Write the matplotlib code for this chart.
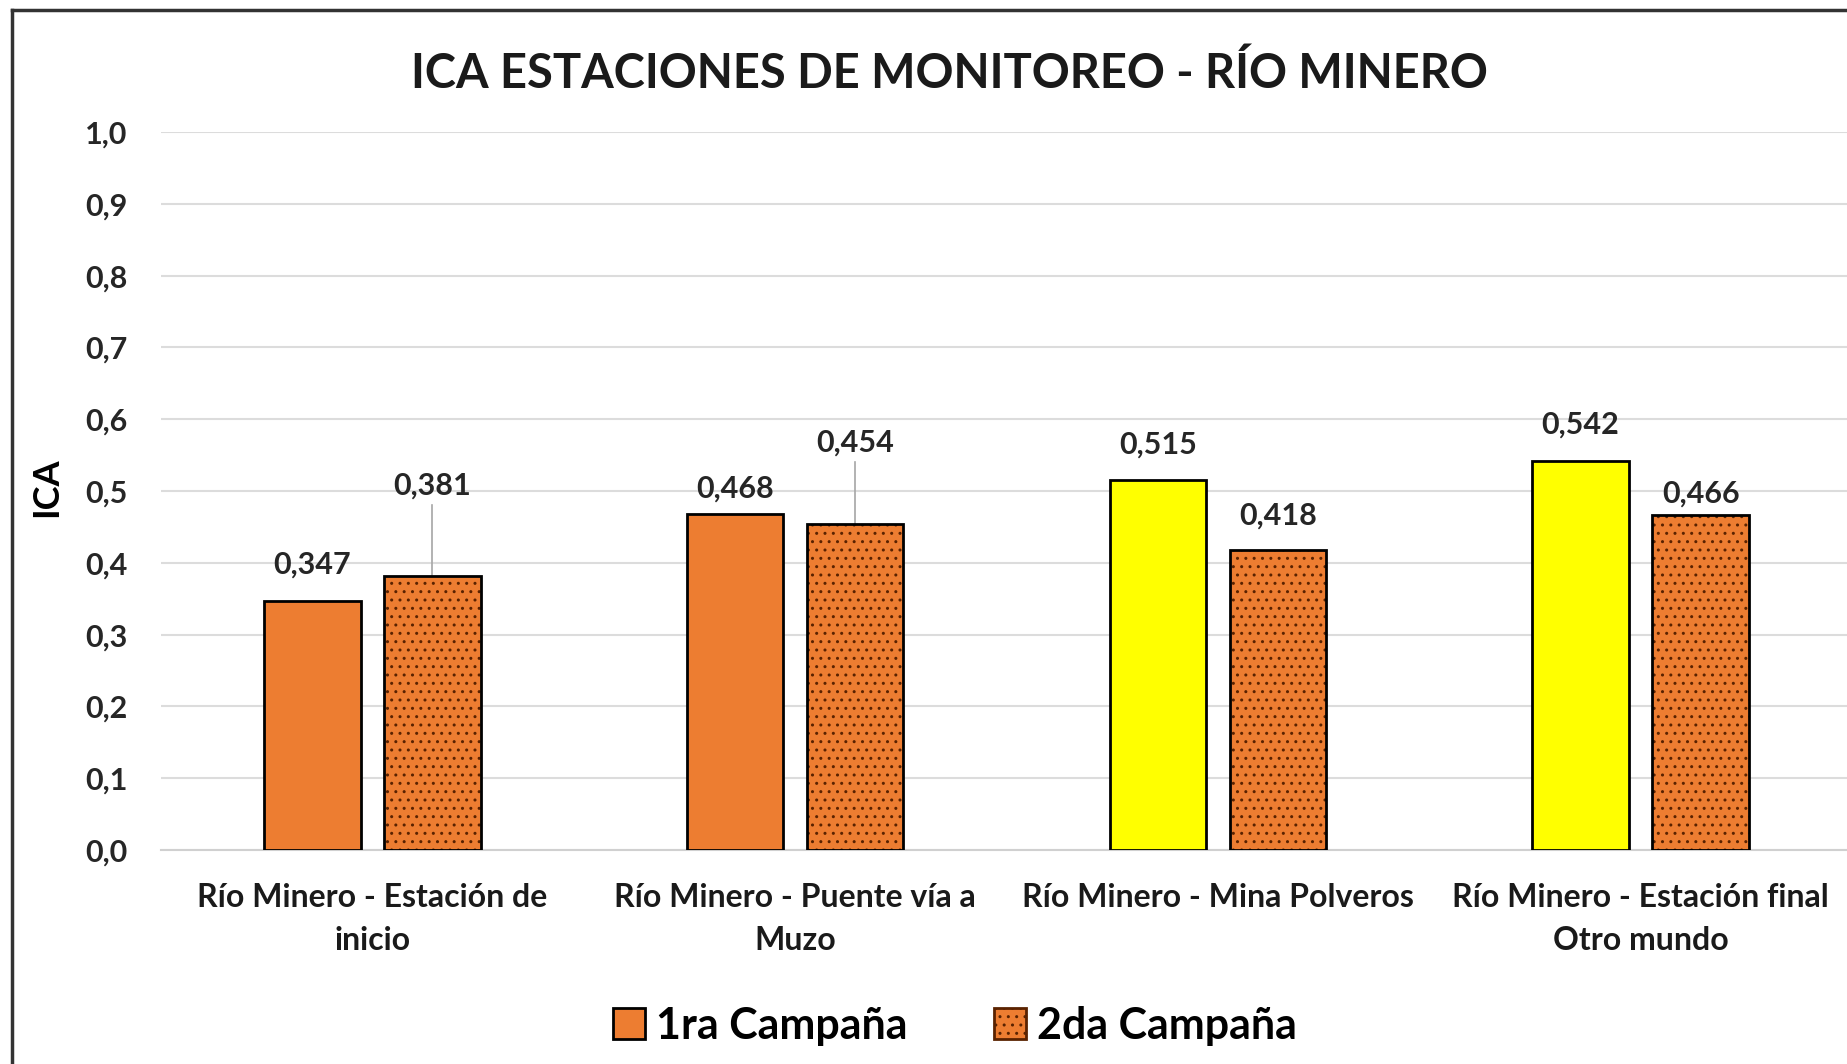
import matplotlib
matplotlib.use("Agg")
import matplotlib.pyplot as plt
from matplotlib.patches import Patch
from matplotlib.lines import Line2D
import numpy as np

# ---- data ----
categories = ["Río Minero - Estación de\ninicio",
              "Río Minero - Puente vía a\nMuzo",
              "Río Minero - Mina Polveros",
              "Río Minero - Estación final\nOtro mundo"]
campana1 = [0.347, 0.468, 0.515, 0.542]
campana2 = [0.381, 0.454, 0.418, 0.466]
series_names = ["1ra Campaña", "2da Campaña"]
yticks = [0.0, 0.1, 0.2, 0.3, 0.4, 0.5, 0.6, 0.7, 0.8, 0.9, 1.0]
title = "ICA ESTACIONES DE MONITOREO - RÍO MINERO"
ylabel = "ICA"

# ---- style ----
FONT = "Lato"
plt.rcParams["font.family"] = [FONT, "DejaVu Sans"]
orange = "#ED7D31"
yellow = "#FFFF00"
c1_colors = [orange, orange, yellow, yellow]
dot_color = "#5a2200"

fig = plt.figure(figsize=(18.47, 10.64), dpi=100)
ax = fig.add_axes([0.0872, 0.2011, 0.9155, 0.6748])

x = np.arange(len(categories))
w = 0.228
off = 0.142

# series 1
ax.bar(x - off, campana1, w, color=c1_colors, edgecolor="black", linewidth=2.0, zorder=3)
# series 2: hatched fill then outline
ax.bar(x + off, campana2, w, color=orange, edgecolor=dot_color, hatch="..", linewidth=0, zorder=3)
ax.bar(x + off, campana2, w, fill=False, edgecolor="black", linewidth=2.0, zorder=4)

# data labels (label centre heights, in axis units)
lab1 = [0.397, 0.503, 0.564, 0.593]
lab2 = [0.507, 0.567, 0.466, 0.497]
leader = [True, True, False, False]
lfont = dict(fontsize=22, fontweight="bold", color="#262626", ha="center", va="center",
             family=[FONT, "DejaVu Sans"])
for i in range(len(categories)):
    ax.text(x[i] - off, lab1[i], f"{campana1[i]:.3f}".replace(".", ","), **lfont, zorder=5)
    ax.text(x[i] + off, lab2[i], f"{campana2[i]:.3f}".replace(".", ","), **lfont, zorder=5)
    if leader[i]:
        ax.plot([x[i] + off, x[i] + off], [lab2[i] - 0.027, campana2[i]],
                color="#a6a6a6", lw=1.2, zorder=2)

ax.set_xlim(-0.5, len(categories) - 0.5)
ax.set_ylim(0, 1.0)
ax.set_yticks(yticks)
ax.set_yticklabels([f"{v:.1f}".replace(".", ",") for v in yticks],
                   fontsize=22, fontweight="bold", color="#262626")
ax.set_xticks(x)
ax.set_xticklabels(categories, fontsize=23, fontweight="bold", color="#1a1a1a",
                   linespacing=1.55)
ax.tick_params(axis="both", length=0)
ax.tick_params(axis="y", pad=24)
ax.tick_params(axis="x", pad=24)
ax.grid(axis="y", color="#dcdcdc", lw=1.5, zorder=0)
ax.set_axisbelow(True)
for s in ["top", "right", "left"]:
    ax.spines[s].set_visible(False)
ax.spines["bottom"].set_color("#d0d0d0")
ax.spines["bottom"].set_linewidth(1.5)

ax.set_ylabel(ylabel, fontsize=26, fontweight="bold", color="black")
ax.yaxis.set_label_coords(-0.058, 0.505)

fig.text(0.514, 0.931, title, fontsize=33.8, fontweight="bold", color="#1a1a1a",
         ha="center", va="center")

handles = [Patch(facecolor=orange, edgecolor="black", linewidth=2.0),
           Patch(facecolor=orange, edgecolor=dot_color, hatch="..", linewidth=2.0)]
leg = fig.legend(handles, series_names, loc="center", bbox_to_anchor=(0.517, 0.036),
                 ncol=2, frameon=False, prop={"family": [FONT], "weight": "bold", "size": 31},
                 handlelength=0.75, handleheight=0.75, handletextpad=0.25, columnspacing=2.0)

# figure border (left and top)
fig.add_artist(Line2D([0.0065, 0.0065], [0, 0.991], transform=fig.transFigure,
                      color="#333333", lw=2.5))
fig.add_artist(Line2D([0.0065, 1.0], [0.991, 0.991], transform=fig.transFigure,
                      color="#333333", lw=2.5))

fig.savefig("out.png", dpi=100)
